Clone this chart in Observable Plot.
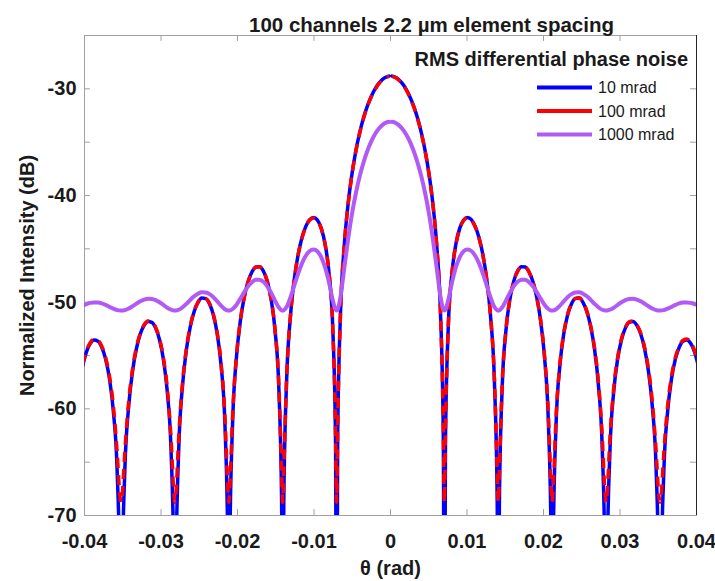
<!DOCTYPE html>
<html><head><meta charset="utf-8">
<script src="https://cdn.jsdelivr.net/npm/d3@7"></script>
<script src="https://cdn.jsdelivr.net/npm/@observablehq/plot@0.6"></script>
<style>body{margin:0;background:#fff} #chart{position:relative;width:715px;height:581px}</style>
</head><body><div id="chart"></div>
<script>
const chartTitle = "100 channels 2.2 µm element spacing";
const xLabel = "θ (rad)";
const yLabel = "Normalized Intensity (dB)";
const legendTitle = "RMS differential phase noise";
const seriesNames = ["10 mrad", "100 mrad", "1000 mrad"];
const seriesColors = ["#0000ff", "#ff0000", "#b25af5"];
const xTicks = [-0.04, -0.03, -0.02, -0.01, 0, 0.01, 0.02, 0.03, 0.04];
const xTickLabels = ["-0.04", "-0.03", "-0.02", "-0.01", "0", "0.01", "0.02", "0.03", "0.04"];
const yTicks = [-70, -60, -50, -40, -30];
const yTickLabels = ["-70", "-60", "-50", "-40", "-30"];
const yMinorTicks = [-70, -65, -60, -55, -50, -45, -40, -35, -30];

const theta = [
-0.040257, -0.039754, -0.039251, -0.038747, -0.038244, -0.037741, -0.037238, -0.036735, -0.036231, -0.035728,
-0.035366, -0.035225, -0.035084,
-0.034722, -0.034219, -0.033715, -0.033212, -0.032709, -0.032206, -0.031702, -0.031199, -0.030696, -0.030193, -0.029690, -0.029186, -0.028683,
-0.028321, -0.028180, -0.028039,
-0.027677, -0.027174, -0.026670, -0.026167, -0.025664, -0.025161, -0.024657, -0.024154, -0.023651, -0.023148, -0.022645, -0.022141, -0.021638,
-0.021276, -0.021135, -0.020994,
-0.020632, -0.020129, -0.019625, -0.019122, -0.018619, -0.018116, -0.017613, -0.017109, -0.016606, -0.016103, -0.015600, -0.015096, -0.014593,
-0.014231, -0.014090, -0.013949,
-0.013587, -0.013084, -0.012580, -0.012077, -0.011574, -0.011071, -0.010568, -0.010064, -0.009561, -0.009058, -0.008555, -0.008051, -0.007548,
-0.007186, -0.007045, -0.006904,
-0.006542, -0.006039, -0.005535, -0.005032, -0.004529, -0.004026, -0.003523, -0.003019, -0.002516, -0.002013, -0.001510, -0.001006, -0.000503, -0.0002,
0,
0.0002, 0.000503, 0.001006, 0.001510, 0.002013, 0.002516, 0.003019, 0.003523, 0.004026, 0.004529, 0.005032, 0.005535, 0.006039, 0.006542,
0.006904, 0.007045, 0.007186,
0.007548, 0.008051, 0.008555, 0.009058, 0.009561, 0.010064, 0.010568, 0.011071, 0.011574, 0.012077, 0.012580, 0.013084, 0.013587,
0.013949, 0.014090, 0.014231,
0.014593, 0.015096, 0.015600, 0.016103, 0.016606, 0.017109, 0.017613, 0.018116, 0.018619, 0.019122, 0.019625, 0.020129, 0.020632,
0.020994, 0.021135, 0.021276,
0.021638, 0.022141, 0.022645, 0.023148, 0.023651, 0.024154, 0.024657, 0.025161, 0.025664, 0.026167, 0.026670, 0.027174, 0.027677,
0.028039, 0.028180, 0.028321,
0.028683, 0.029186, 0.029690, 0.030193, 0.030696, 0.031199, 0.031702, 0.032206, 0.032709, 0.033212, 0.033715, 0.034219, 0.034722,
0.035084, 0.035225, 0.035366,
0.035728, 0.036231, 0.036735, 0.037238, 0.037741, 0.038244, 0.038747, 0.039251, 0.039754, 0.040257
];

const noise10 = [
-56.02, -54.68, -53.88, -53.55, -53.66, -54.23, -55.34, -57.19, -60.22, -65.90,
-76.80, -88.8, -76.73,
-65.65, -59.72, -56.45, -54.35, -52.98, -52.17, -51.81, -51.89, -52.43, -53.52, -55.34, -58.34, -63.99,
-74.87, -88.8, -74.78,
-63.68, -57.72, -54.41, -52.28, -50.88, -50.02, -49.62, -49.67, -50.17, -51.21, -52.99, -55.94, -61.54,
-72.38, -88.8, -72.27,
-61.13, -55.11, -51.75, -49.55, -48.09, -47.17, -46.70, -46.67, -47.10, -48.06, -49.75, -52.62, -58.12,
-68.89, -88.8, -68.72,
-57.50, -51.37, -47.88, -45.56, -43.96, -42.89, -42.26, -42.06, -42.30, -43.06, -44.53, -47.16, -52.40,
-62.96, -88.8, -62.61,
-51.15, -44.66, -40.75, -37.96, -35.81, -34.10, -32.72, -31.60, -30.71, -30.00, -29.47, -29.09, -28.87, -28.81,
null,
-28.81, -28.87, -29.09, -29.47, -30.00, -30.71, -31.60, -32.72, -34.10, -35.81, -37.96, -40.75, -44.66, -51.15,
-62.61, -88.8, -62.96,
-52.40, -47.16, -44.53, -43.06, -42.30, -42.06, -42.26, -42.89, -43.96, -45.56, -47.88, -51.37, -57.50,
-68.72, -88.8, -68.89,
-58.12, -52.62, -49.75, -48.06, -47.10, -46.67, -46.70, -47.17, -48.09, -49.55, -51.75, -55.11, -61.13,
-72.27, -88.8, -72.38,
-61.54, -55.94, -52.99, -51.21, -50.17, -49.67, -49.62, -50.02, -50.88, -52.28, -54.41, -57.72, -63.68,
-74.78, -88.8, -74.87,
-63.99, -58.34, -55.34, -53.52, -52.43, -51.89, -51.81, -52.17, -52.98, -54.35, -56.45, -59.72, -65.65,
-76.73, -88.8, -76.80,
-65.90, -60.22, -57.19, -55.34, -54.23, -53.66, -53.55, -53.88, -54.68, -56.02
];

const noise100 = [
-55.83, -54.55, -53.80, -53.46, -53.57, -54.12, -55.19, -56.93, -59.68, -64.14,
-68.17, -68.76, -68.16,
-63.97, -59.25, -56.24, -54.23, -52.91, -52.11, -51.76, -51.84, -52.37, -53.43, -55.19, -58.00, -62.79,
-67.85, -68.76, -67.83,
-62.55, -57.43, -54.29, -52.22, -50.84, -49.99, -49.59, -49.64, -50.13, -51.17, -52.92, -55.76, -60.82,
-67.23, -68.76, -67.20,
-60.48, -54.97, -51.70, -49.55, -48.10, -47.19, -46.72, -46.69, -47.11, -48.06, -49.73, -52.55, -57.80,
-65.86, -68.76, -65.77,
-57.22, -51.33, -47.91, -45.60, -44.00, -42.93, -42.30, -42.10, -42.34, -43.10, -44.57, -47.18, -52.34,
-61.99, -68.76, -61.71,
-51.11, -44.69, -40.79, -38.00, -35.85, -34.14, -32.76, -31.64, -30.75, -30.04, -29.51, -29.13, -28.91, -28.85,
null,
-28.85, -28.91, -29.13, -29.51, -30.04, -30.75, -31.64, -32.76, -34.14, -35.85, -38.00, -40.79, -44.69, -51.11,
-61.71, -68.76, -61.99,
-52.34, -47.18, -44.57, -43.10, -42.34, -42.10, -42.30, -42.93, -44.00, -45.60, -47.91, -51.33, -57.22,
-65.77, -68.76, -65.86,
-57.80, -52.55, -49.73, -48.06, -47.11, -46.69, -46.72, -47.19, -48.10, -49.55, -51.70, -54.97, -60.48,
-67.20, -68.76, -67.23,
-60.82, -55.76, -52.92, -51.17, -50.13, -49.64, -49.59, -49.99, -50.84, -52.22, -54.29, -57.43, -62.55,
-67.83, -68.76, -67.85,
-62.79, -58.00, -55.19, -53.43, -52.37, -51.84, -51.76, -52.11, -52.91, -54.23, -56.24, -59.25, -63.97,
-68.16, -68.76, -68.17,
-64.14, -59.68, -56.93, -55.19, -54.12, -53.57, -53.46, -53.80, -54.55, -55.83
];

const noise1000 = [
-50.34, -50.18, -50.07, -50.02, -50.04, -50.12, -50.26, -50.44, -50.61, -50.74,
-50.79, -50.79, -50.79,
-50.74, -50.59, -50.38, -50.14, -49.92, -49.76, -49.68, -49.70, -49.81, -50.01, -50.26, -50.52, -50.71,
-50.78, -50.79, -50.78,
-50.71, -50.48, -50.15, -49.78, -49.45, -49.21, -49.08, -49.10, -49.25, -49.54, -49.92, -50.33, -50.66,
-50.78, -50.79, -50.78,
-50.64, -50.24, -49.67, -49.06, -48.52, -48.13, -47.90, -47.89, -48.09, -48.51, -49.13, -49.85, -50.50,
-50.77, -50.79, -50.76,
-50.46, -49.58, -48.44, -47.32, -46.36, -45.65, -45.20, -45.06, -45.23, -45.77, -46.72, -48.12, -49.81,
-50.69, -50.79, -50.69,
-49.52, -46.79, -44.07, -41.71, -39.79, -38.20, -36.89, -35.81, -34.93, -34.24, -33.72, -33.36, -33.14, -33.08,
null,
-33.08, -33.14, -33.36, -33.72, -34.24, -34.93, -35.81, -36.89, -38.20, -39.79, -41.71, -44.07, -46.79, -49.52,
-50.69, -50.79, -50.69,
-49.81, -48.12, -46.72, -45.77, -45.23, -45.06, -45.20, -45.65, -46.36, -47.32, -48.44, -49.58, -50.46,
-50.76, -50.79, -50.77,
-50.50, -49.85, -49.13, -48.51, -48.09, -47.89, -47.90, -48.13, -48.52, -49.06, -49.67, -50.24, -50.64,
-50.78, -50.79, -50.78,
-50.66, -50.33, -49.92, -49.54, -49.25, -49.10, -49.08, -49.21, -49.45, -49.78, -50.15, -50.48, -50.71,
-50.78, -50.79, -50.78,
-50.71, -50.52, -50.26, -50.01, -49.81, -49.70, -49.68, -49.76, -49.92, -50.14, -50.38, -50.59, -50.74,
-50.79, -50.79, -50.79,
-50.74, -50.61, -50.44, -50.26, -50.12, -50.04, -50.02, -50.07, -50.18, -50.34
];

if (![noise10, noise100, noise1000].every(a => a.length === theta.length)) {
  console.error("length mismatch", theta.length, noise10.length, noise100.length, noise1000.length);
}

const rows = theta.map((t, i) => ({t, a: noise10[i], b: noise100[i], c: noise1000[i]}));
const font = "'Liberation Sans', Arial, Helvetica, sans-serif";
const frameGray = "#a0a0a0";
const textColor = "#1a1a1a";

const plot = Plot.plot({
  width: 715, height: 581,
  marginLeft: 84, marginRight: 19, marginTop: 35, marginBottom: 66,
  style: {fontFamily: font, background: "#fff", color: textColor, overflow: "visible"},
  x: {domain: [-0.04, 0.04], label: null},
  y: {domain: [-70, -25], label: null},
  marks: [
    Plot.frame({stroke: frameGray}),
    Plot.ruleX(xTicks, {x: d => d, y1: -70, y2: -69.45, stroke: frameGray}),
    Plot.ruleX(xTicks, {x: d => d, y1: -25, y2: -25.55, stroke: frameGray}),
    Plot.ruleY(yMinorTicks, {y: d => d, x1: -0.04, x2: -0.03922, stroke: frameGray}),
    Plot.ruleY(yMinorTicks, {y: d => d, x1: 0.04, x2: 0.03922, stroke: frameGray}),
    Plot.ruleX([0.04], {stroke: "#262626"}),
    Plot.axisX({ticks: xTicks, tickFormat: d => xTickLabels[xTicks.indexOf(d)], tickSize: 0, tickPadding: 18, fontSize: 20, fontWeight: "bold", label: null}),
    Plot.axisY({ticks: yTicks, tickFormat: d => yTickLabels[yTicks.indexOf(d)], tickSize: 0, tickPadding: 8, fontSize: 20, fontWeight: "bold", label: null}),
    Plot.line(rows, {x: "t", y: "a", stroke: seriesColors[0], strokeWidth: 3.5, curve: "monotone-x", clip: true}),
    Plot.line(rows, {x: "t", y: "b", stroke: seriesColors[1], strokeWidth: 3.5, strokeDasharray: "10,7", strokeLinecap: "butt", curve: "monotone-x", clip: true}),
    Plot.line(rows, {x: "t", y: "c", stroke: seriesColors[2], strokeWidth: 4, curve: "monotone-x", clip: true}),
    Plot.text([chartTitle], {text: d => d, frameAnchor: "top", dx: 41, dy: -18, fontSize: 20.5, fontWeight: "bold", fill: textColor}),
    Plot.text([xLabel], {text: d => d, frameAnchor: "bottom", dy: 59, fontSize: 20, fontWeight: "bold", fill: textColor}),
    Plot.text([yLabel], {text: d => d, frameAnchor: "left", textAnchor: "middle", dx: -57, rotate: -90, fontSize: 20, fontWeight: "bold", fill: textColor})
  ]
});

// Legend (inside the plot, top right)
const svg = d3.select(plot);
const lg = svg.append("g").attr("font-family", font).attr("fill", textColor);
lg.append("text").attr("x", 688).attr("y", 59).attr("dy", "0.35em").attr("text-anchor", "end")
  .attr("font-size", 20).attr("font-weight", "bold").text(legendTitle);
seriesNames.forEach((name, i) => {
  const y = 87.5 + i * 23.5;
  lg.append("line").attr("x1", 537).attr("x2", 592).attr("y1", y).attr("y2", y)
    .attr("stroke", seriesColors[i]).attr("stroke-width", 4);
  lg.append("text").attr("x", 598).attr("y", y).attr("dy", "0.35em").attr("text-anchor", "start")
    .attr("font-size", 16).text(name);
});

document.getElementById("chart").appendChild(plot);
</script>
</body></html>
